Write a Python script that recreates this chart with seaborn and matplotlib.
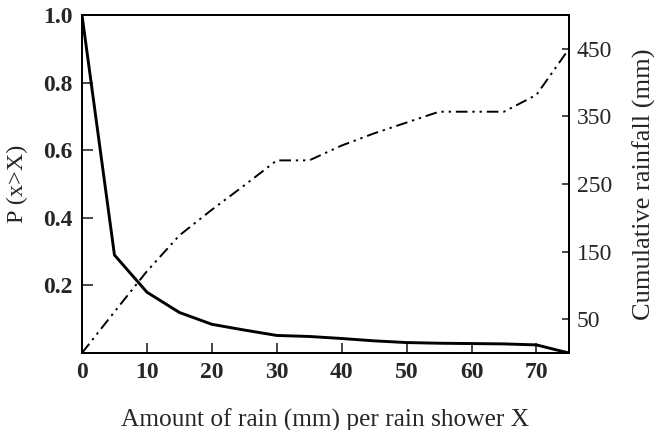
import matplotlib
matplotlib.use("Agg")
import matplotlib.pyplot as plt
import seaborn as sns
import pandas as pd

# Rain amount per shower (mm)
rain_mm = [0, 5, 10, 15, 20, 25, 30, 35, 40, 45, 50, 55, 60, 65, 70, 75]
# Exceedance probability P(x > X)
exceedance = [1.0, 0.29, 0.18, 0.12, 0.085, 0.068, 0.052, 0.049, 0.043,
              0.036, 0.031, 0.029, 0.028, 0.027, 0.024, 0.0]
# Cumulative rainfall (mm)
cumulative = [0, 61, 121, 174, 212, 248, 285, 285, 307, 325, 341, 357,
              357, 357, 382, 450]

x_ticks = [0, 10, 20, 30, 40, 50, 60, 70]
p_ticks = [0.2, 0.4, 0.6, 0.8, 1.0]
c_ticks = [50, 150, 250, 350, 450]

df = pd.DataFrame({"rain": rain_mm, "p": exceedance, "cum": cumulative})

sns.set_theme(style="ticks")
plt.rcParams["font.family"] = ["Liberation Serif", "DejaVu Serif"]
plt.rcParams["axes.linewidth"] = 1.4

fig = plt.figure(figsize=(6.57, 4.30), dpi=100)
ax = fig.add_axes([0.1248, 0.179, 0.7412, 0.786])
ax2 = ax.twinx()

sns.lineplot(data=df, x="rain", y="p", ax=ax, color="black", linewidth=2.1,
             estimator=None, sort=False)
sns.lineplot(data=df, x="rain", y="cum", ax=ax2, color="black", linewidth=1.4,
             estimator=None, sort=False)
ax2.lines[0].set_linestyle((0, (6, 2.5, 1.2, 2.5, 1.2, 2.5)))

ax.set_xlim(0, 75)
ax.set_ylim(0, 1.0)
ax2.set_ylim(0, 500)

tick_fs = 17
ax.set_xticks(x_ticks)
ax.set_xticklabels([str(v) for v in x_ticks], fontsize=tick_fs, fontweight="bold")
ax.set_yticks(p_ticks)
ax.set_yticklabels([f"{v:.1f}" for v in p_ticks], fontsize=tick_fs, fontweight="bold")
ax2.set_yticks(c_ticks)
ax2.set_yticklabels([str(v) for v in c_ticks], fontsize=tick_fs)

ax.tick_params(axis="x", direction="in", length=7, width=1.2, pad=6.5)
ax.tick_params(axis="y", direction="in", length=8, width=1.2, pad=6.5)
ax2.tick_params(axis="y", direction="in", length=5, width=1.2, pad=5.5)

ax.set_xlabel("Amount of rain (mm) per rain shower X", fontsize=18.3)
ax.set_ylabel("P (x>X)", fontsize=17.5)
ax2.set_ylabel("Cumulative rainfall (mm)", fontsize=19)
ax.xaxis.set_label_coords(0.5, -0.163)
ax.yaxis.set_label_coords(-0.111, 0.5)
ax2.yaxis.set_label_coords(1.1314, 0.5)

for a in (ax, ax2):
    for s in a.spines.values():
        s.set_visible(True)
        s.set_color("black")
        s.set_linewidth(1.4)

fig.savefig("out.png", dpi=100, facecolor="white")
